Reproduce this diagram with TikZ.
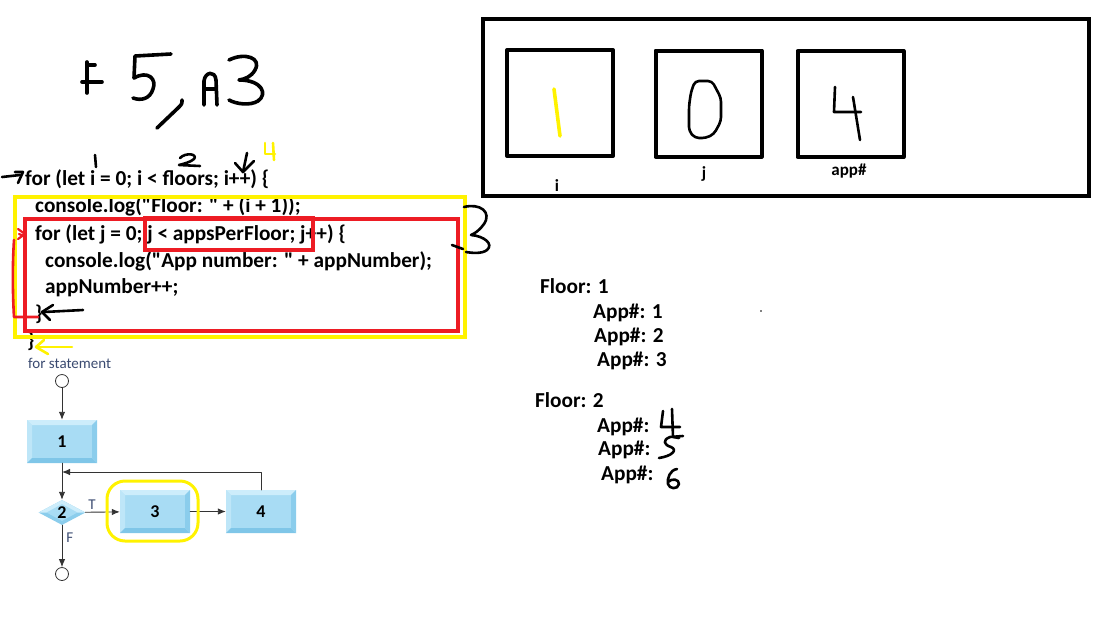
\documentclass[tikz,border=0pt]{standalone}
\usepackage{fontspec}
\setmainfont{Carlito}
\newfontfamily\codefont{Carlito}
\usetikzlibrary{arrows.meta,shapes.geometric}

\definecolor{paintred}{HTML}{ED1C24}
\definecolor{paintyel}{HTML}{FFF200}
\definecolor{flowface}{HTML}{A8DCF4}
\definecolor{flowlite}{HTML}{CDEDFB}
\definecolor{flowdark}{HTML}{7FC6E8}
\definecolor{flowline}{HTML}{333333}
\definecolor{flowtext}{HTML}{3A4A70}

\begin{document}
\begin{tikzpicture}[x=1pt, y=-1pt, line cap=round, line join=round,
  code/.style={anchor=base west, inner sep=0pt, font=\codefont\fontsize{21.3}{25}\selectfont\bfseries},
  varlabel/.style={anchor=base, inner sep=0pt, font=\fontsize{17}{20}\selectfont\bfseries},
  pen/.style={line width=3.6pt},
  thinpen/.style={line width=2.6pt},
  varbox/.style={draw, line width=4pt, minimum width=106, minimum height=106, inner sep=0pt},
  flowbox/.style={rectangle, minimum width=70, minimum height=43, inner sep=0pt, fill=flowface,
    font=\fontsize{18}{22}\selectfont\bfseries,
    path picture={
      \path (path picture bounding box.north west) coordinate (bvNW)
            (path picture bounding box.north east) coordinate (bvNE)
            (path picture bounding box.south west) coordinate (bvSW)
            (path picture bounding box.south east) coordinate (bvSE);
      \fill[flowlite] (bvNW) -- (bvNE) -- ([shift={(-5pt,-5pt)}]bvNE) -- ([shift={(5pt,-5pt)}]bvNW) -- cycle;
      \fill[flowlite!60!flowface] (bvNW) -- ([shift={(5pt,-5pt)}]bvNW) -- ([shift={(5pt,5pt)}]bvSW) -- (bvSW) -- cycle;
      \fill[flowdark] (bvSW) -- ([shift={(5pt,5pt)}]bvSW) -- ([shift={(-5pt,5pt)}]bvSE) -- (bvSE) -- cycle;
      \fill[flowdark!70!flowface] (bvNE) -- (bvSE) -- ([shift={(-5pt,5pt)}]bvSE) -- ([shift={(-5pt,-5pt)}]bvNE) -- cycle;
    }},
  flowdia/.style={diamond, minimum width=47, minimum height=25, aspect=1.9, inner sep=0pt,
    fill=flowdark!70!flowface, font=\fontsize{18}{22}\selectfont\bfseries,
    path picture={
      \fill[flowlite] (path picture bounding box.west) -- (path picture bounding box.north)
        -- (path picture bounding box.east) -- cycle;
      \fill[flowface] ([xshift=8pt]path picture bounding box.west) -- ([yshift=-4pt]path picture bounding box.north)
        -- ([xshift=-8pt]path picture bounding box.east) -- ([yshift=4pt]path picture bounding box.south) -- cycle;
    }},
  flowend/.style={circle, draw=flowline, fill=white, line width=0.8pt, minimum size=13, inner sep=0pt},
  flowarrow/.style={draw=flowline, line width=0.9pt, -{Latex[length=8pt,width=6.5pt]}},
  flowlabel/.style={inner sep=0pt, text=flowtext, font=\fontsize{15}{18}\selectfont}]

  %% ════ 手写：F 5, A 3 ════
  \draw[pen] (87,62) -- (87,93);
  \draw[pen] (87,65) -- (95,65);
  \draw[pen] (82,82) -- (102,82);
  \draw[pen] (171,54) -- (135,56) -- (134,78) .. controls (148,70) and (157,79) .. (153,89)
    .. controls (150,99) and (141,101) .. (133,98);
  \draw[pen] (157,128) -- (178,108) .. controls (182,104) .. (182,100);
  \draw[pen] (204,105) -- (204,81) .. controls (205,72) and (215,70) .. (216,80) -- (217,105);
  \draw[pen] (204,89) -- (216,89);
  \draw[pen] (229,60) .. controls (245,52) and (262,58) .. (255,70) .. controls (251,77) and (245,79) .. (239,80)
    .. controls (262,80) and (268,94) .. (258,101) .. controls (250,106) and (236,104) .. (229,100);

  %% ════ 代码上方的编号 ════
  \draw[thinpen] (95,155) -- (96,167);
  \draw[thinpen] (180,158) .. controls (186,152) and (198,154) .. (194,159)
    .. controls (191,162) and (183,164) .. (179,165) -- (200,166);
  \draw[thinpen] (247,153) -- (243,172);
  \draw[thinpen] (235,163) -- (243,172) -- (254,161);
  \draw[thinpen, paintyel] (265,143) -- (265,154) -- (275,154);
  \draw[thinpen, paintyel] (273,143) -- (274,160);
  \draw[thinpen] (2,177) -- (20,175);
  \draw[thinpen] (15,172) -- (23,172) -- (18,183);

  %% ════ 代码 ════
  \node[code] (forI) at (25,185) {for (let i = 0; i < floors; i++) \{};
  \node[code] (logFloor) at (35,212) {console.log("Floor: " + (i + 1));};
  \node[code] (forJ) at (35,240) {for (let j = 0; j < appsPerFloor; j++) \{};
  \node[code] (logApp) at (45,267) {console.log("App number: " + appNumber);};
  \node[code] (incApp) at (45,293) {appNumber++;};
  \node[code] (closeJ) at (35,320) {\}};
  \node[code] (closeI) at (27,347) {\}};

  %% ════ 框选（黄 / 红）════
  \draw[paintyel, line width=4.5pt, line cap=butt, line join=miter] (15,197) rectangle (465,337);
  \draw[paintred, line width=4pt, line cap=butt, line join=miter] (25,219) rectangle (458,331);
  \draw[paintred, line width=4pt, line cap=butt, line join=miter] (145,218) rectangle (313,250);
  \draw[paintred, line width=2.6pt] (14,240) .. controls (12,270) and (13,300) .. (14,317) -- (38,317);
  \draw[paintred, line width=2.2pt] (18,229) -- (25,234) -- (18,239);
  \draw[paintred, line width=2.2pt] (19,234) -- (24,236);
  \draw[thinpen] (83,310) -- (44,312);
  \draw[thinpen] (53,305) -- (42,312) -- (50,320);
  \draw[thinpen, paintyel] (72,347) -- (37,347);
  \draw[thinpen, paintyel] (44,340) -- (36,347) -- (48,354);
  \draw[thinpen] (464,207) .. controls (480,203) and (492,212) .. (484,224) .. controls (480,230) and (474,234) .. (471,235)
    .. controls (484,236) and (494,244) .. (487,250) .. controls (482,254) and (472,253) .. (466,252);
  \draw[thinpen] (452,245) -- (463,249);

  %% ════ 流程图 ════
  \node[flowlabel, anchor=base west] (fsTitle) at (28,368) {for statement};
  \node[flowend] (fsStart) at (62,381) {};
  \node[flowbox] (fsInit) at (62,441.5) {1};
  \node[flowdia] (fsCond) at (62,512.5) {2};
  \node[flowbox] (fsBody) at (155,511.5) {3};
  \node[flowbox] (fsIncr) at (261,511.5) {4};
  \node[flowend] (fsStop) at (62,574) {};
  \coordinate (fsJoin) at (62,472);
  \draw[flowarrow] (fsStart) -- (fsInit);
  \draw[flowarrow] (fsInit) -- (fsCond);
  \draw[flowarrow] (fsCond) -- node[flowlabel, above=2pt, pos=0.2] {T} (fsBody);
  \draw[flowarrow] (fsBody) -- (fsIncr);
  \draw[flowarrow] (fsCond) -- node[flowlabel, right=4pt, pos=0.3] {F} (fsStop);
  \draw[flowarrow] (fsIncr) |- (fsJoin);
  \draw[paintyel, line width=3pt, rounded corners=18pt] (107,481) rectangle (198,541);

  %% ════ 变量框 ════
  \draw[line width=4.5pt, line cap=butt, line join=miter] (483,19) rectangle (1089,196);
  \node[varbox] (varI) at (560,103) {};
  \node[varbox] (varJ) at (708.5,103.5) {};
  \node[varbox] (varApp) at (850.5,104) {};
  \node[varlabel] (labI) at (557,191) {i};
  \node[varlabel] (labJ) at (704,178) {j};
  \node[varlabel] (labApp) at (849,175) {app\#};
  \draw[pen, paintyel] (554,89) -- (560,136);
  \draw[thinpen, rounded corners=4pt] (695,81) -- (712,81) -- (721,98) -- (721,121) -- (714,134) -- (706,138)
    -- (695,138) -- (689,131) -- (689,106) -- (691,92) -- cycle;
  \draw[thinpen] (835,87) -- (834,112) -- (861,112);
  \draw[thinpen] (853,97) -- (860,140);

  %% ════ 输出 ════
  \node[code] (outF1) at (540,293) {Floor: 1};
  \node[code] (outA1) at (593,318) {App\#: 1};
  \node[code] (outA2) at (594,342) {App\#: 2};
  \node[code] (outA3) at (597,366) {App\#: 3};
  \node[code] (outF2) at (535,407) {Floor: 2};
  \node[code] (outA4) at (597,432) {App\#:};
  \node[code] (outA5) at (598,455) {App\#:};
  \node[code] (outA6) at (601,480) {App\#:};
  \draw[thinpen] (663,411) -- (661,427) -- (680,427);
  \draw[thinpen] (672,409) -- (673,437) -- (679,438);
  \draw[thinpen] (683,436) -- (670,437) .. controls (662,440) and (664,445) .. (671,447)
    .. controls (678,450) and (672,456) .. (659,458);
  \draw[thinpen] (677,469) .. controls (670,470) and (667,478) .. (668,484)
    .. controls (669,489) and (678,490) .. (679,484) .. controls (679,479) and (672,478) .. (668,482);
  \fill (761,311) circle (0.9);

  % 钉死画布
  \pgfresetboundingbox
  \path[use as bounding box] (0,0) rectangle (1103,619);
\end{tikzpicture}
\end{document}
